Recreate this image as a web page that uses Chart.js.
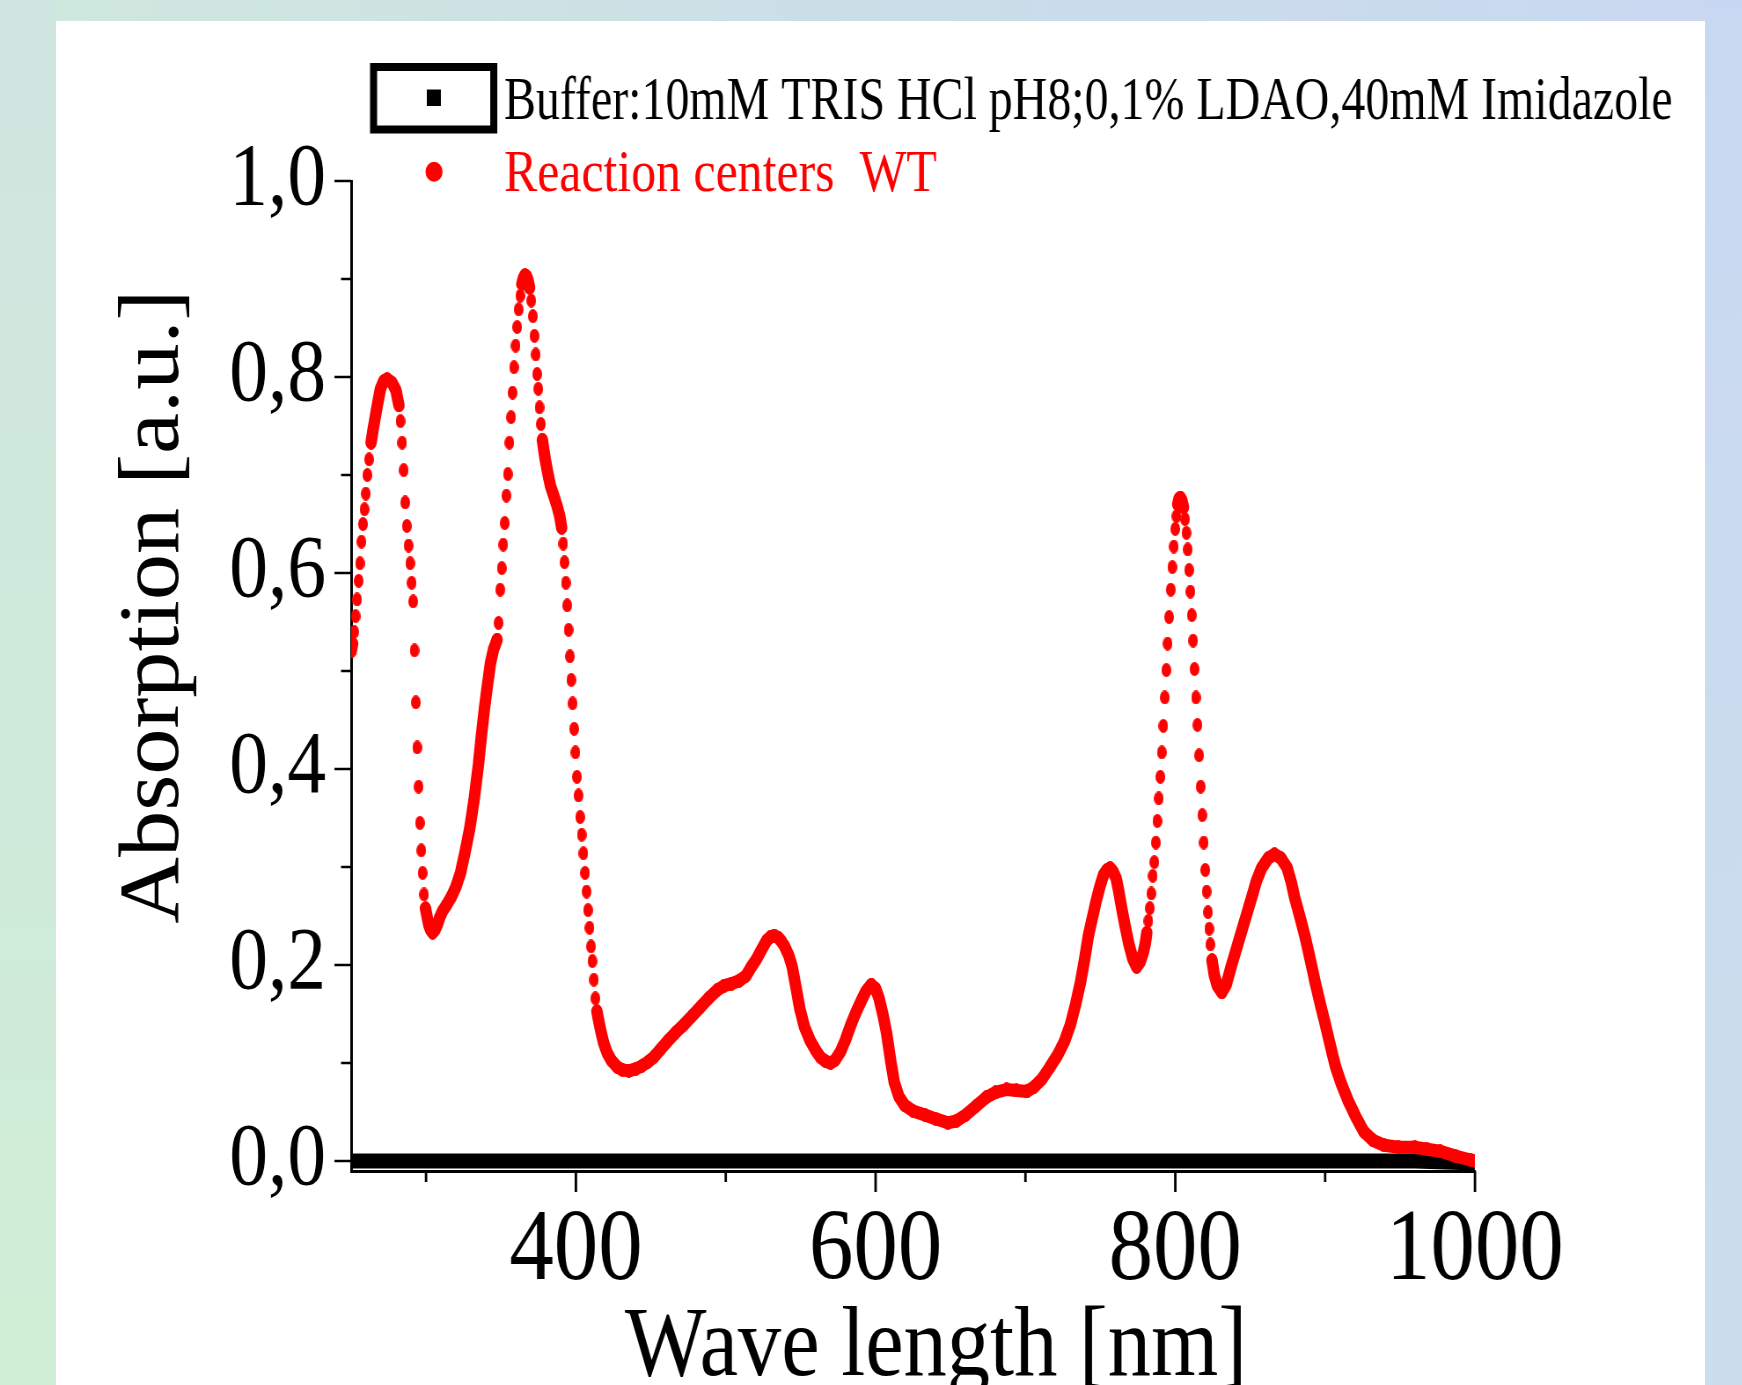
<!DOCTYPE html>
<html>
<head>
<meta charset="utf-8">
<title>Absorption spectrum - reaction centers</title>
<script src="https://cdn.jsdelivr.net/npm/chart.js@4.4.0/dist/chart.umd.min.js"></script>
<style>
html,body{margin:0;padding:0;}
body{width:1742px;height:1385px;overflow:hidden;position:relative;
  background:linear-gradient(to right,#cfe8dd 0%,#cbdde9 55%,#c9d8f1 100%);}
.edge-left{position:absolute;left:0;top:0;width:56px;height:1385px;background:linear-gradient(to bottom,#cfe5e0,#d0eed6);}
.edge-right{position:absolute;right:0;top:0;width:37px;height:1385px;background:linear-gradient(to bottom,#c9d8f2,#ccdeec);}
.panel{position:absolute;left:56px;top:21px;width:1649px;height:1364px;background:#fff;}
/* the original figure is stretched vertically, so draw wider and squeeze */
.wrap{position:absolute;left:0;top:0;width:1980px;height:1385px;transform:scaleX(0.88);transform-origin:0 0;}
</style>
</head>
<body>
<div class="edge-left"></div>
<div class="edge-right"></div>
<div class="panel"></div>
<div class="wrap"><canvas id="spectrum" width="1980" height="1385"></canvas></div>
<script>
// reaction centers WT, wavelength [nm] / absorption [a.u.]
var rcWave = [250.0,251.0,252.0,253.0,254.0,255.0,255.9,256.9,257.9,258.9,259.8,260.8,262.0,263.3,264.7,266.2,267.8,269.6,271.8,274.0,
  277.4,280.0,281.0,281.9,282.9,284.0,285.1,286.1,287.2,288.3,289.4,290.4,291.4,292.3,293.2,294.1,295.0,295.9,296.8,297.7,
  298.6,299.6,300.7,301.8,303.0,304.4,306.0,307.5,309.0,311.0,314.0,317.0,320.0,323.0,326.0,329.0,332.0,335.0,337.0,339.0,
  341.0,343.0,345.0,346.3,347.4,348.4,349.5,350.5,351.5,352.5,353.6,354.6,355.6,356.7,357.7,358.7,359.8,360.8,361.8,362.9,
  363.9,365.0,366.0,367.0,368.0,369.1,370.2,371.3,372.3,373.2,374.1,374.9,375.7,376.6,377.6,378.7,380.0,381.5,383.0,385.2,
  387.5,389.2,390.5,391.5,392.4,393.3,394.2,395.1,396.0,396.9,397.8,398.8,399.7,400.7,401.7,402.8,403.9,405.0,406.1,407.1,
  408.1,409.1,410.1,411.0,412.0,413.0,414.0,415.2,417.0,418.6,421.0,423.5,427.5,431.0,435.3,440.0,444.0,448.0,452.0,456.5,
  461.0,466.5,472.0,477.5,483.0,488.5,494.0,499.0,504.0,509.0,513.5,517.0,520.5,524.0,527.3,530.0,532.5,535.0,537.2,539.3,
  542.0,544.4,547.0,549.5,552.5,556.3,560.0,563.1,566.5,569.9,573.0,576.7,580.0,583.5,587.0,590.3,593.5,597.1,600.0,602.3,
  604.8,607.3,609.9,612.5,615.5,619.3,625.0,632.9,640.0,648.2,654.0,660.2,667.0,673.8,680.0,687.4,694.0,701.0,706.0,711.2,
  716.0,721.4,726.0,730.0,733.5,736.7,739.5,741.9,744.5,747.0,749.5,752.1,754.3,756.5,758.6,760.6,762.3,764.0,766.5,769.1,
  771.5,774.2,776.5,778.7,780.0,781.0,782.0,783.0,784.0,785.0,786.0,787.0,788.0,789.0,790.0,791.0,792.0,793.0,794.0,794.9,
  795.9,797.0,798.0,799.0,800.0,800.8,801.6,802.5,803.4,804.4,805.5,806.5,807.4,808.3,809.2,810.1,811.0,811.9,812.8,813.8,
  814.8,815.9,816.9,818.0,819.0,820.0,820.9,821.8,822.6,823.4,824.5,826.0,828.0,831.0,834.0,837.2,840.5,844.0,847.5,850.8,
  854.0,857.6,862.0,866.2,870.5,874.7,877.3,879.8,883.2,886.6,890.0,893.4,896.8,900.2,903.6,907.0,911.0,915.5,920.5,925.8,
  932.0,939.4,949.0,959.8,968.0,976.8,987.0,997.2,1000.0];
var rcAbs = [0.520,0.528,0.540,0.556,0.573,0.592,0.610,0.632,0.650,0.665,0.681,0.700,0.716,0.733,0.747,0.760,0.774,0.788,0.796,0.798,
  0.794,0.786,0.778,0.771,0.755,0.733,0.705,0.672,0.648,0.628,0.610,0.590,0.571,0.521,0.468,0.422,0.382,0.345,0.317,0.294,
  0.272,0.258,0.249,0.241,0.236,0.233,0.236,0.241,0.248,0.255,0.262,0.270,0.280,0.294,0.315,0.338,0.368,0.405,0.435,0.462,
  0.486,0.508,0.522,0.527,0.532,0.549,0.583,0.605,0.629,0.651,0.679,0.701,0.733,0.759,0.784,0.810,0.832,0.851,0.869,0.883,
  0.895,0.901,0.904,0.903,0.899,0.891,0.878,0.862,0.842,0.823,0.803,0.788,0.769,0.752,0.736,0.724,0.712,0.700,0.689,0.679,
  0.668,0.658,0.646,0.630,0.611,0.590,0.567,0.542,0.515,0.491,0.467,0.441,0.417,0.392,0.373,0.351,0.333,0.314,0.294,0.275,
  0.256,0.238,0.219,0.204,0.185,0.166,0.153,0.143,0.130,0.120,0.110,0.103,0.096,0.093,0.092,0.094,0.097,0.101,0.106,0.114,
  0.122,0.131,0.139,0.148,0.157,0.166,0.174,0.179,0.181,0.184,0.189,0.198,0.206,0.216,0.225,0.229,0.230,0.228,0.224,0.219,
  0.210,0.198,0.176,0.155,0.137,0.123,0.113,0.106,0.102,0.100,0.103,0.112,0.124,0.139,0.152,0.163,0.173,0.180,0.176,0.166,
  0.150,0.131,0.104,0.080,0.066,0.057,0.051,0.047,0.043,0.039,0.041,0.047,0.056,0.065,0.070,0.073,0.072,0.071,0.076,0.084,
  0.095,0.108,0.122,0.139,0.160,0.182,0.206,0.229,0.247,0.264,0.279,0.292,0.297,0.299,0.295,0.288,0.275,0.260,0.240,0.221,
  0.207,0.198,0.203,0.213,0.222,0.233,0.245,0.258,0.273,0.291,0.305,0.325,0.347,0.370,0.392,0.417,0.444,0.473,0.501,0.528,
  0.555,0.583,0.606,0.627,0.645,0.658,0.670,0.676,0.677,0.674,0.667,0.655,0.641,0.624,0.603,0.581,0.557,0.531,0.502,0.473,
  0.445,0.414,0.382,0.353,0.325,0.297,0.275,0.254,0.237,0.221,0.205,0.190,0.179,0.172,0.180,0.198,0.215,0.233,0.251,0.268,
  0.285,0.299,0.309,0.313,0.309,0.299,0.285,0.268,0.249,0.229,0.206,0.182,0.160,0.139,0.117,0.096,0.078,0.061,0.045,0.030,
  0.021,0.016,0.014,0.014,0.012,0.010,0.005,0.001,0.000];

// buffer baseline
var bufWave = [250, 300, 400, 500, 600, 700, 800, 900, 930, 960, 1000];
var bufAbs = [0.000, 0.000, 0.000, 0.000, 0.000, 0.000, 0.000, 0.000, 0.000, 0.000, -0.002];

var xMajor = [400, 600, 800, 1000];
var xMinor = [300, 500, 700, 900];
var yMajor = [0.0, 0.2, 0.4, 0.6, 0.8, 1.0];
var yMinor = [0.1, 0.3, 0.5, 0.7, 0.9];

var bufLabel = 'Buffer:10mM TRIS HCl pH8;0,1% LDAO,40mM Imidazole';
var rcLabel = 'Reaction centers  WT';
var xTitle = 'Wave length [nm]';
var yTitle = 'Absorption [a.u.]';

var FONT = '"Liberation Serif", "Times New Roman", serif';

function toPoints(xs, ys) {
  return xs.map(function(x, i) { return {x: x, y: ys[i]}; });
}

// scan points look like upright ellipses in the original
var dot = document.createElement('canvas');
dot.width = 11;
dot.height = 14;
var dctx = dot.getContext('2d');
dctx.fillStyle = '#ff0000';
dctx.beginPath();
dctx.ellipse(5.5, 7, 5.5, 7, 0, 0, Math.PI * 2);
dctx.fill();

// where the scan is steep (and points were read one by one) the dots separate,
// so no joining line there
function steepGap(ctx) {
  var dx = Math.abs(ctx.p1.parsed.x - ctx.p0.parsed.x);
  var dy = Math.abs(ctx.p1.parsed.y - ctx.p0.parsed.y);
  return (dx < 1.5 && dy / dx > 0.0115) ? 'rgba(255,0,0,0)' : undefined;
}

function line(c, x1, y1, x2, y2) {
  c.beginPath();
  c.moveTo(x1, y1);
  c.lineTo(x2, y2);
  c.stroke();
}

var extras = {
  id: 'extras',
  afterDraw: function(chart) {
    var c = chart.ctx;
    var xs = chart.scales.x, ys = chart.scales.y;
    var left = chart.chartArea.left, bottom = chart.chartArea.bottom;
    c.save();
    c.strokeStyle = '#000';

    // tick marks, pointing out of the plot
    c.lineWidth = 2.5;
    yMajor.forEach(function(v) { var y = ys.getPixelForValue(v); line(c, left - 19, y, left, y); });
    yMinor.forEach(function(v) { var y = ys.getPixelForValue(v); line(c, left - 11.5, y, left, y); });
    c.lineWidth = 2.8;
    xMajor.forEach(function(v) { var x = xs.getPixelForValue(v); line(c, x, bottom, x, bottom + 21); });
    xMinor.forEach(function(v) { var x = xs.getPixelForValue(v); line(c, x, bottom, x, bottom + 11); });

    // axis titles
    c.fillStyle = '#000';
    c.textAlign = 'center';
    c.textBaseline = 'alphabetic';
    c.font = '99px ' + FONT;
    c.fillText(xTitle, 1063.6, 1375, 707);
    c.save();
    c.translate(202, 606.7);
    c.rotate(-Math.PI / 2);
    c.font = '98px ' + FONT;
    c.fillText(yTitle, 0, 0, 634);
    c.restore();

    // legend
    c.fillStyle = '#000';
    c.fillRect(420.5, 63, 144.6, 70.5);
    c.fillStyle = '#fff';
    c.fillRect(428.5, 71, 128.6, 54.5);
    c.fillStyle = '#000';
    c.fillRect(485, 89.5, 16, 16.5);
    c.fillStyle = '#ff0000';
    c.beginPath();
    c.ellipse(493.2, 171.7, 9.7, 10, 0, 0, Math.PI * 2);
    c.fill();

    c.textAlign = 'left';
    c.font = '61px ' + FONT;
    c.fillStyle = '#000';
    c.fillText(bufLabel, 572.7, 118.5, 1328);
    c.fillStyle = '#ff0000';
    c.font = '60px ' + FONT;
    c.fillText(rcLabel, 572.7, 191, 492);
    c.restore();
  }
};

var chart = new Chart(document.getElementById('spectrum'), {
  type: 'line',
  data: {
    datasets: [{
      label: rcLabel,
      data: toPoints(rcWave, rcAbs),
      order: 0,
      borderColor: '#ff0000',
      borderWidth: 13,
      borderCapStyle: 'round',
      borderJoinStyle: 'round',
      pointStyle: dot,
      pointRadius: 6,
      tension: 0,
      segment: { borderColor: steepGap }
    }, {
      label: bufLabel,
      data: toPoints(bufWave, bufAbs),
      order: 1,
      borderColor: '#000000',
      borderWidth: 15,
      pointRadius: 0,
      tension: 0
    }]
  },
  options: {
    responsive: false,
    animation: false,
    events: [],
    layout: { padding: { top: 181, right: 303.9, bottom: 0, left: 0 } },
    plugins: { legend: { display: false }, tooltip: { enabled: false } },
    scales: {
      x: {
        type: 'linear',
        position: 'bottom',
        min: 250,
        max: 1000,
        afterFit: function(s) { s.height = 214; },
        afterBuildTicks: function(s) { s.ticks = xMajor.map(function(v) { return {value: v}; }); },
        grid: { display: false, drawTicks: true, tickLength: 21 },
        border: { display: true, color: '#000', width: 3 },
        ticks: {
          color: '#000',
          padding: 10,
          maxRotation: 0,
          font: { family: FONT, size: 101, lineHeight: 1 },
          callback: function(v) { return String(v); }
        }
      },
      y: {
        min: -0.0102,
        max: 1.0,
        afterFit: function(s) { s.width = 399; },
        afterBuildTicks: function(s) { s.ticks = yMajor.map(function(v) { return {value: v}; }); },
        grid: { display: false, drawTicks: true, tickLength: 19 },
        border: { display: true, color: '#000', width: 3 },
        ticks: {
          color: '#000',
          padding: 9.4,
          font: { family: FONT, size: 88, lineHeight: 1 },
          callback: function(v) { return v.toFixed(1).replace('.', ','); }
        }
      }
    }
  },
  plugins: [extras]
});
</script>
</body>
</html>
